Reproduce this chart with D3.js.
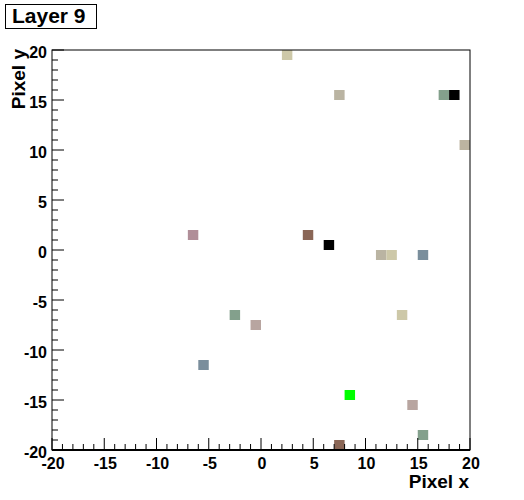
<!DOCTYPE html>
<html>
<head>
<meta charset="utf-8">
<script src="https://cdn.jsdelivr.net/npm/d3@7"></script>
<style>
  body { margin: 0; background: #fff; }
  text { font-family: "Liberation Sans", Arial, sans-serif; font-weight: bold; }
</style>
</head>
<body>
<div id="chart"></div>
<script>
// Filled bins: lower-left corner of each 1x1 pixel bin and its colour
let binX = [2, 7, 17, 18, 19, -7, 4, 6, 11, 12, 15, -3, -1, 13, -6, 8, 14, 15, 7];
let binY = [19, 15, 15, 15, 10, 1, 1, 0, -1, -1, -1, -7, -8, -7, -12, -15, -16, -19, -20];
let binColor = ["#cdc8a8", "#bab4a2", "#83a08c", "#000000", "#bcb4a0", "#b08e98", "#8a6656",
    "#000000", "#bab4a2", "#cdc8a8", "#7a8e9c", "#83a08c", "#b8a5a0", "#cdc8a8", "#7a8e9c",
    "#00ff00", "#b8a5a0", "#83a08c", "#8a6656"];

let tickValues = [-20, -15, -10, -5, 0, 5, 10, 15, 20];
let minorValues = d3.range(-20, 21, 1);

let width = 524, height = 500;
let margin = { top: 50, right: 54, bottom: 50, left: 52 };

let svg = d3.select("#chart").append("svg")
    .attr("width", width)
    .attr("height", height);

let x = d3.scaleLinear().domain([-20, 20]).range([margin.left, width - margin.right]);
let y = d3.scaleLinear().domain([-20, 20]).range([height - margin.bottom, margin.top]);

let cells = binX.map((d, i) => ({ x: d, y: binY[i], c: binColor[i] }));

// bins
svg.selectAll(".bin").data(cells)
    .enter().append("rect")
    .attr("class", "bin")
    .attr("x", d => x(d.x))
    .attr("y", d => y(d.y + 1))
    .attr("width", d => x(d.x + 1) - x(d.x))
    .attr("height", d => y(d.y) - y(d.y + 1))
    .attr("fill", d => d.c);

// frame
svg.append("rect")
    .attr("x", x(-20)).attr("y", y(20))
    .attr("width", x(20) - x(-20)).attr("height", y(-20) - y(20))
    .attr("fill", "none").attr("stroke", "#000").attr("stroke-width", 1);

// x axis ticks (inside the frame)
let gx = svg.append("g");
gx.append("line")
    .attr("x1", x(-20)).attr("x2", x(20))
    .attr("y1", y(-20)).attr("y2", y(-20))
    .attr("stroke", "#000").attr("stroke-width", 2);
gx.selectAll(".minor").data(minorValues)
    .enter().append("line")
    .attr("x1", d => x(d)).attr("x2", d => x(d))
    .attr("y1", y(-20)).attr("y2", d => y(-20) - (d % 5 === 0 ? 12 : 6))
    .attr("stroke", "#000");
gx.selectAll(".lab").data(tickValues)
    .enter().append("text")
    .attr("x", d => x(d) + 1)
    .attr("y", y(-20) + 19)
    .attr("text-anchor", "middle")
    .attr("font-size", 16)
    .text(d => d);

// y axis ticks
let gy = svg.append("g");
gy.selectAll(".minor").data(minorValues)
    .enter().append("line")
    .attr("y1", d => y(d)).attr("y2", d => y(d))
    .attr("x1", x(-20)).attr("x2", d => x(-20) + (d % 5 === 0 ? 12 : 6))
    .attr("stroke", "#000");
gy.selectAll(".lab").data(tickValues)
    .enter().append("text")
    .attr("x", x(-20) - 5)
    .attr("y", d => y(d) + 8)
    .attr("text-anchor", "end")
    .attr("font-size", 16)
    .text(d => d);

// axis titles
svg.append("text")
    .attr("x", x(20) - 1)
    .attr("y", 488)
    .attr("text-anchor", "end")
    .attr("font-size", 19)
    .text("Pixel x");

svg.append("text")
    .attr("transform", "translate(25," + (y(20) - 1) + ") rotate(-90)")
    .attr("text-anchor", "end")
    .attr("font-size", 19)
    .text("Pixel y");

// title box
svg.append("rect")
    .attr("x", 5.5).attr("y", 4.5)
    .attr("width", 91).attr("height", 24)
    .attr("fill", "#fff").attr("stroke", "#000");
svg.append("text")
    .attr("x", 12)
    .attr("y", 23)
    .attr("font-size", 21)
    .text("Layer 9");
</script>
</body>
</html>
